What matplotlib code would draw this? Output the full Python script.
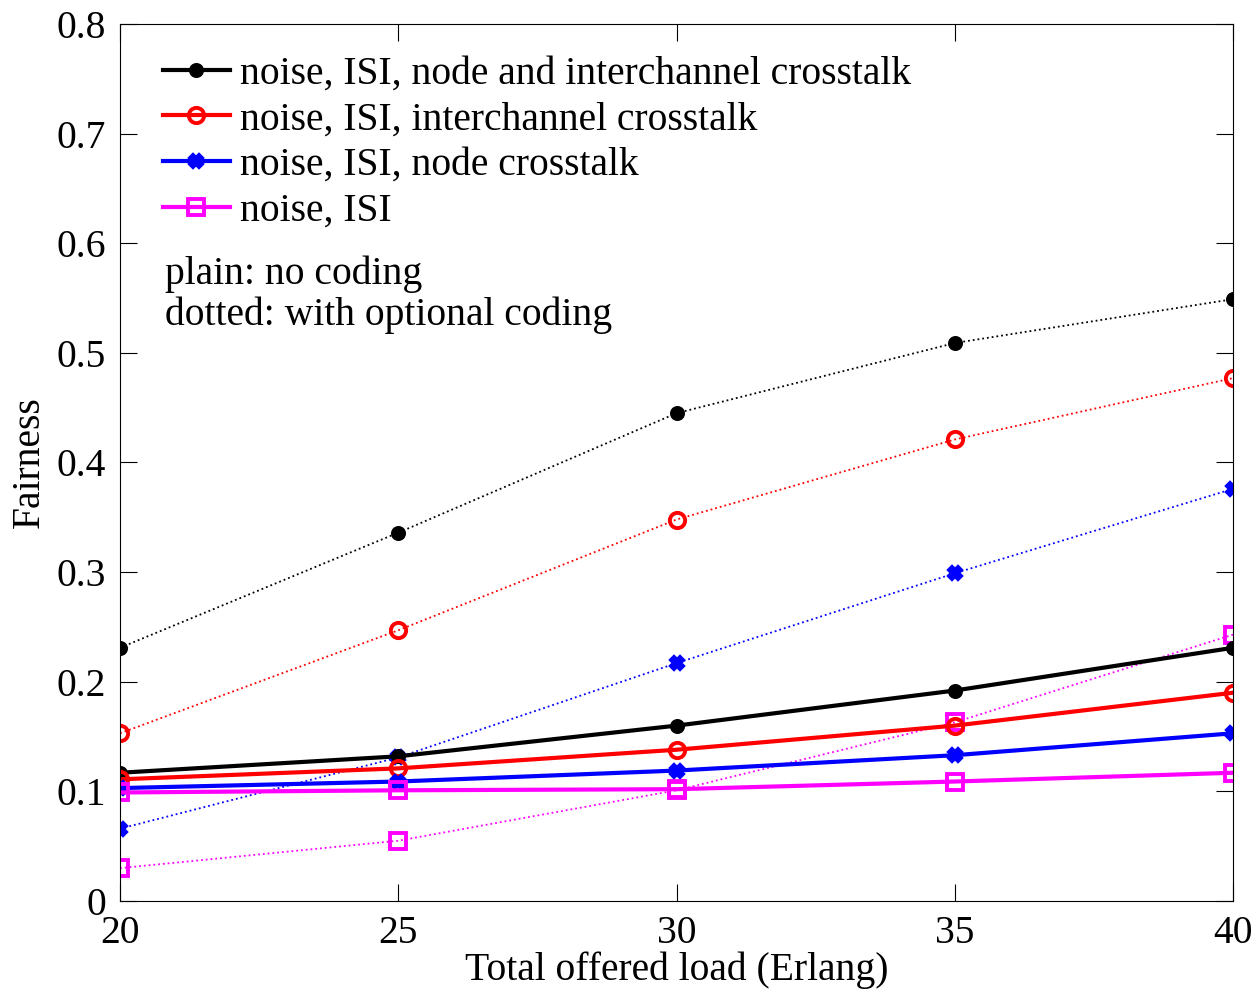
import matplotlib.pyplot as plt
import numpy as np

plt.rcParams['font.family'] = ['Liberation Serif', 'DejaVu Serif']

load = [20, 25, 30, 35, 40]

# plain: no coding
all_plain = [0.117, 0.132, 0.160, 0.192, 0.231]
inter_plain = [0.111, 0.121, 0.138, 0.160, 0.190]
node_plain = [0.103, 0.109, 0.119, 0.133, 0.153]
isi_plain = [0.099, 0.101, 0.102, 0.109, 0.117]

# dotted: with optional coding
all_coded = [0.231, 0.336, 0.445, 0.509, 0.549]
inter_coded = [0.153, 0.247, 0.348, 0.421, 0.477]
node_coded = [0.066, 0.131, 0.217, 0.299, 0.376]
isi_coded = [0.030, 0.055, 0.101, 0.163, 0.243]

labels = ['noise, ISI, node and interchannel crosstalk',
          'noise, ISI, interchannel crosstalk',
          'noise, ISI, node crosstalk',
          'noise, ISI']

fs = 28.5
fig = plt.figure(figsize=(12.57, 9.91), dpi=100)
ax = fig.add_axes([0.0955, 0.0908, 0.8855, 0.885])

styles = [('k', 'o', 8, 'k'), ('r', 'o', 11, 'none'), ('b', 'X', 8, 'b'), ('#ff00ff', 's', 11, 'none')]
plain = [all_plain, inter_plain, node_plain, isi_plain]
coded = [all_coded, inter_coded, node_coded, isi_coded]

for (c, m, ms, fc), yc in zip(styles, coded):
    ax.plot(load, yc, color=c, ls=':', lw=1.3, marker=m, ms=ms, mfc=fc, mec=c, mew=2.8)
for (c, m, ms, fc), yp, lab in zip(styles, plain, labels):
    ax.plot(load, yp, color=c, ls='-', lw=3, marker=m, ms=ms, mfc=fc, mec=c, mew=2.8, label=lab)

ax.set_xlim(20, 40)
ax.set_ylim(0, 0.8)
ax.set_xticks([20, 25, 30, 35, 40])
ax.set_yticks(np.arange(0, 0.81, 0.1))
ax.set_yticklabels(['0', '0.1', '0.2', '0.3', '0.4', '0.5', '0.6', '0.7', '0.8'])
ax.tick_params(direction='in', top=True, right=True, labelsize=fs, length=12, pad=10)
ax.set_xlabel('Total offered load (Erlang)', fontsize=fs, labelpad=0)
ax.set_ylabel('Fairness', fontsize=fs, labelpad=6)

ax.legend(loc='upper left', fontsize=fs, frameon=False, handlelength=1.7,
          handletextpad=0.25, labelspacing=0.22, borderaxespad=0.0,
          bbox_to_anchor=(0.024, 0.982))
ax.text(0.04, 0.736, 'plain: no coding\ndotted: with optional coding',
        transform=ax.transAxes, fontsize=fs, va='top', linespacing=1.13)

fig.savefig('out.png', dpi=100)
